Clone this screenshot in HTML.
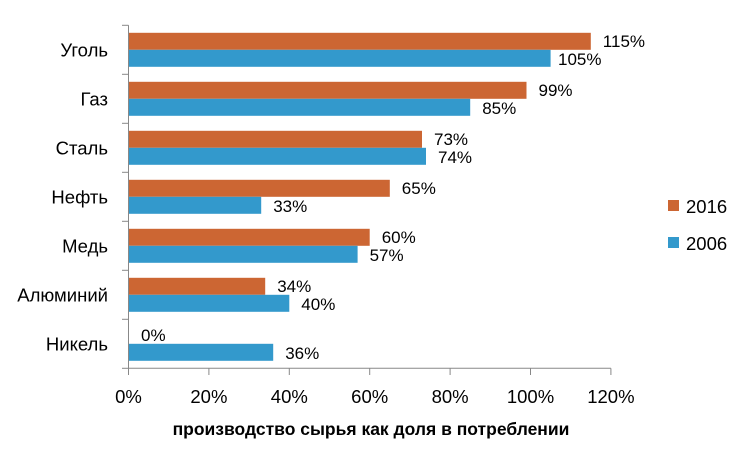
<!DOCTYPE html>
<html><head><meta charset="utf-8"><style>body{margin:0;background:#fff}</style></head><body>
<svg width="748" height="450" xmlns="http://www.w3.org/2000/svg" font-family="Liberation Sans, DejaVu Sans, sans-serif">
<g fill="#CC6633">
<rect x="128.5" y="32.8" width="462.3" height="17"/>
<rect x="128.5" y="81.8" width="398" height="17"/>
<rect x="128.5" y="130.8" width="293.5" height="17"/>
<rect x="128.5" y="179.8" width="261.3" height="17"/>
<rect x="128.5" y="228.8" width="241.2" height="17"/>
<rect x="128.5" y="277.8" width="136.7" height="17"/>
</g>
<g fill="#3399CC">
<rect x="128.5" y="49.8" width="422.1" height="17"/>
<rect x="128.5" y="98.8" width="341.7" height="17"/>
<rect x="128.5" y="147.8" width="297.5" height="17"/>
<rect x="128.5" y="196.8" width="132.7" height="17"/>
<rect x="128.5" y="245.8" width="229.1" height="17"/>
<rect x="128.5" y="294.8" width="160.8" height="17"/>
<rect x="128.5" y="343.8" width="144.7" height="17"/>
</g>
<g font-size="17" fill="#000">
<text x="602.8" y="46.8">115%</text>
<text x="558" y="64.8">105%</text>
<text x="538.5" y="95.8">99%</text>
<text x="482.2" y="113.8">85%</text>
<text x="434" y="144.8">73%</text>
<text x="438" y="162.8">74%</text>
<text x="401.8" y="193.8">65%</text>
<text x="273.2" y="211.8">33%</text>
<text x="381.7" y="242.8">60%</text>
<text x="369.6" y="260.8">57%</text>
<text x="277.2" y="291.8">34%</text>
<text x="301.3" y="309.8">40%</text>
<text x="141" y="340.8">0%</text>
<text x="285.2" y="358.8">36%</text>
</g>
<g font-size="18.5" fill="#000" text-anchor="end">
<text x="108" y="56.3">Уголь</text>
<text x="108" y="105.3">Газ</text>
<text x="108" y="154.3">Сталь</text>
<text x="108" y="203.3">Нефть</text>
<text x="108" y="252.3">Медь</text>
<text x="108" y="301.3">Алюминий</text>
<text x="108" y="350.3">Никель</text>
</g>
<g stroke="#888" stroke-width="1">
<line x1="122" x2="128.5" y1="25.3" y2="25.3"/>
<line x1="122" x2="128.5" y1="74.3" y2="74.3"/>
<line x1="122" x2="128.5" y1="123.3" y2="123.3"/>
<line x1="122" x2="128.5" y1="172.3" y2="172.3"/>
<line x1="122" x2="128.5" y1="221.3" y2="221.3"/>
<line x1="122" x2="128.5" y1="270.3" y2="270.3"/>
<line x1="122" x2="128.5" y1="319.3" y2="319.3"/>
<line x1="122" x2="128.5" y1="368.3" y2="368.3"/>
<line x1="128.5" x2="128.5" y1="25.3" y2="375"/>
<line x1="128.5" x2="610.9" y1="368.3" y2="368.3"/>
<line x1="208.9" x2="208.9" y1="368.3" y2="375"/>
<line x1="289.3" x2="289.3" y1="368.3" y2="375"/>
<line x1="369.7" x2="369.7" y1="368.3" y2="375"/>
<line x1="450.1" x2="450.1" y1="368.3" y2="375"/>
<line x1="530.5" x2="530.5" y1="368.3" y2="375"/>
<line x1="610.9" x2="610.9" y1="368.3" y2="375"/>
</g>
<g font-size="18.5" fill="#000" text-anchor="middle">
<text x="128.5" y="403">0%</text>
<text x="208.9" y="403">20%</text>
<text x="289.3" y="403">40%</text>
<text x="369.7" y="403">60%</text>
<text x="450.1" y="403">80%</text>
<text x="530.5" y="403">100%</text>
<text x="610.9" y="403">120%</text>
</g>
<text x="371" y="435" font-size="17.5" font-weight="bold" text-anchor="middle" fill="#000">производство сырья как доля в потреблении</text>
<rect x="668" y="200" width="11" height="11" fill="#CC6633"/>
<text x="686" y="213" font-size="18.5" fill="#000">2016</text>
<rect x="668" y="237" width="11" height="11" fill="#3399CC"/>
<text x="686" y="250" font-size="18.5" fill="#000">2006</text>
</svg>
</body></html>
